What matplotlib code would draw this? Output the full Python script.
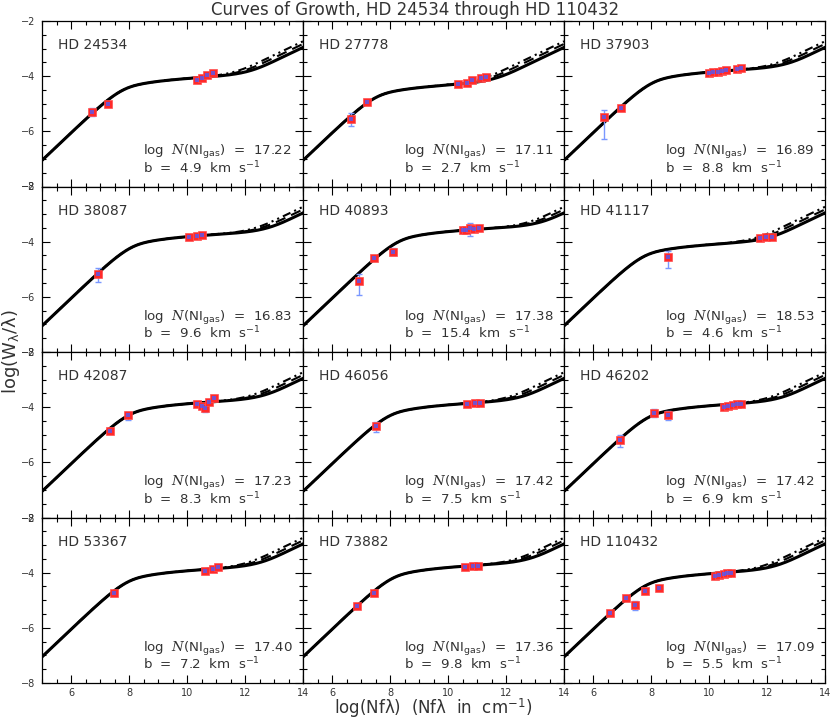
import numpy as np
import matplotlib
matplotlib.use("Agg")
import matplotlib.pyplot as plt
from matplotlib.ticker import MultipleLocator

plt.rcParams['font.family'] = ['DejaVu Sans']
plt.rcParams['mathtext.fontset'] = 'dejavuserif'

# ---------------- data ----------------
stars = ["HD 24534", "HD 27778", "HD 37903",
         "HD 38087", "HD 40893", "HD 41117",
         "HD 42087", "HD 46056", "HD 46202",
         "HD 53367", "HD 73882", "HD 110432"]
logN = ["17.22", "17.11", "16.89", "16.83", "17.38", "18.53",
        "17.23", "17.42", "17.42", "17.40", "17.36", "17.09"]
b_kms = [4.9, 2.7, 8.8, 9.6, 15.4, 4.6, 8.3, 7.5, 6.9, 7.2, 9.8, 5.5]

x_24534 = [6.74, 7.29, 10.33, 10.51, 10.70, 10.89]
y_24534 = [-5.29, -5.00, -4.14, -4.07, -3.97, -3.90]
eu_24534 = [0.15, 0.06, 0.05, 0.05, 0.05, 0.05]
el_24534 = [0.15, 0.06, 0.05, 0.05, 0.05, 0.05]

x_27778 = [6.64, 7.20, 10.36, 10.64, 10.83, 11.14, 11.31]
y_27778 = [-5.54, -4.92, -4.28, -4.23, -4.14, -4.06, -4.03]
eu_27778 = [0.20, 0.06, 0.05, 0.05, 0.06, 0.05, 0.05]
el_27778 = [0.26, 0.06, 0.05, 0.05, 0.06, 0.05, 0.05]

x_37903 = [6.39, 6.95, 10.00, 10.15, 10.30, 10.45, 10.58, 10.95, 11.10]
y_37903 = [-5.48, -5.17, -3.90, -3.84, -3.86, -3.81, -3.79, -3.73, -3.72]
eu_37903 = [0.27, 0.06, 0.05, 0.05, 0.05, 0.05, 0.05, 0.04, 0.04]
el_37903 = [0.81, 0.06, 0.05, 0.05, 0.05, 0.05, 0.05, 0.04, 0.04]

x_38087 = [6.94, 10.07, 10.36, 10.50]
y_38087 = [-5.17, -3.82, -3.78, -3.77]
eu_38087 = [0.22, 0.05, 0.04, 0.04]
el_38087 = [0.30, 0.05, 0.04, 0.04]

x_40893 = [6.92, 7.46, 8.10, 10.50, 10.62, 10.76, 10.88, 11.06]
y_40893 = [-5.41, -4.60, -4.36, -3.56, -3.58, -3.52, -3.53, -3.52]
eu_40893 = [0.24, 0.05, 0.12, 0.10, 0.06, 0.18, 0.05, 0.05]
el_40893 = [0.54, 0.05, 0.12, 0.14, 0.06, 0.26, 0.05, 0.05]

x_41117 = [8.58, 11.75, 11.97, 12.18]
y_41117 = [-4.54, -3.88, -3.82, -3.82]
eu_41117 = [0.20, 0.04, 0.04, 0.04]
el_41117 = [0.42, 0.04, 0.04, 0.04]

x_42087 = [7.34, 7.98, 10.36, 10.50, 10.62, 10.76, 10.93]
y_42087 = [-4.86, -4.30, -3.90, -3.94, -4.02, -3.82, -3.68]
eu_42087 = [0.06, 0.13, 0.06, 0.06, 0.12, 0.06, 0.06]
el_42087 = [0.06, 0.17, 0.06, 0.06, 0.15, 0.06, 0.06]

x_46056 = [7.51, 10.66, 10.92, 11.09]
y_46056 = [-4.69, -3.90, -3.86, -3.84]
eu_46056 = [0.16, 0.05, 0.05, 0.05]
el_46056 = [0.22, 0.05, 0.05, 0.05]

x_46202 = [6.94, 8.11, 8.60, 10.50, 10.67, 10.83, 10.97, 11.11]
y_46202 = [-5.20, -4.20, -4.28, -4.00, -3.96, -3.92, -3.89, -3.87]
eu_46202 = [0.18, 0.14, 0.13, 0.05, 0.05, 0.05, 0.05, 0.05]
el_46202 = [0.26, 0.16, 0.17, 0.05, 0.05, 0.05, 0.05, 0.05]

x_53367 = [7.47, 10.62, 10.91, 11.08]
y_53367 = [-4.73, -3.94, -3.86, -3.80]
eu_53367 = [0.06, 0.06, 0.06, 0.06]
el_53367 = [0.06, 0.06, 0.06, 0.06]

x_73882 = [6.87, 7.44, 10.57, 10.85, 11.02]
y_73882 = [-5.20, -4.74, -3.78, -3.76, -3.76]
eu_73882 = [0.08, 0.06, 0.05, 0.04, 0.04]
el_73882 = [0.08, 0.06, 0.05, 0.04, 0.04]

x_110432 = [6.57, 7.14, 7.45, 7.80, 8.29, 10.19, 10.36, 10.50, 10.62, 10.76]
y_110432 = [-5.46, -4.93, -5.16, -4.66, -4.54, -4.12, -4.08, -4.06, -4.02, -4.00]
eu_110432 = [0.07, 0.05, 0.14, 0.06, 0.05, 0.04, 0.04, 0.04, 0.04, 0.04]
el_110432 = [0.09, 0.05, 0.18, 0.06, 0.05, 0.04, 0.04, 0.04, 0.04, 0.04]

points = [
    (x_24534, y_24534, eu_24534, el_24534),
    (x_27778, y_27778, eu_27778, el_27778),
    (x_37903, y_37903, eu_37903, el_37903),
    (x_38087, y_38087, eu_38087, el_38087),
    (x_40893, y_40893, eu_40893, el_40893),
    (x_41117, y_41117, eu_41117, el_41117),
    (x_42087, y_42087, eu_42087, el_42087),
    (x_46056, y_46056, eu_46056, el_46056),
    (x_46202, y_46202, eu_46202, el_46202),
    (x_53367, y_53367, eu_53367, el_53367),
    (x_73882, y_73882, eu_73882, el_73882),
    (x_110432, y_110432, eu_110432, el_110432),
]

# damping widths (Gamma*lambda, cm/s) for solid, dashed, dash-dot model curves
gamma_lambda = [1300.0, 2300.0, 3600.0]

x_ticks = [6, 8, 10, 12, 14]
y_ticks = [-8, -6, -4, -2]


# ---------------- theoretical curve of growth ----------------
def cog(logx, b_kms, gl):
    c = 2.998e10
    b = b_kms * 1e5
    tau0 = 1.497e-2 * 10.0 ** logx / b
    a = gl / (4 * np.pi * b)
    u = np.concatenate([np.linspace(0, 10, 1500), np.logspace(1.0001, 6.5, 2500)])
    H = np.exp(-u ** 2) + a / (np.sqrt(np.pi) * (u ** 2 + 1.0))
    integrand = 1.0 - np.exp(-tau0[:, None] * H[None, :])
    I = np.trapezoid(integrand, u, axis=1)
    return np.log10(2 * b / c * I)


xx = np.linspace(5, 14, 300)

W, H = 831, 721
fig = plt.figure(figsize=(W / 100, H / 100), dpi=100)
left_px, top_px, cw, rh = 42, 21, 261, 165.5
txtc = '#333333'

for k in range(12):
    r, cidx = divmod(k, 3)
    ax = fig.add_axes([(left_px + cidx * cw) / W, 1 - (top_px + (r + 1) * rh) / H, cw / W, rh / H])
    ax.set_xlim(5, 14)
    ax.set_ylim(-8, -2)
    styles = ['-', (0, (5, 3)), (0, (4, 2, 1, 2, 1, 2))]
    lws = [2.2, 1.5, 1.5]
    for gl, ls, lw, z in zip(gamma_lambda[::-1], styles[::-1], lws[::-1], [2, 2.1, 2.2]):
        ax.plot(xx, cog(xx, b_kms[k], gl), color='black', ls=ls, lw=lw, zorder=z)
    px, py, eu, el = points[k]
    ax.errorbar(px, py, yerr=[el, eu], fmt='none', ecolor='#7a98ff', elinewidth=1.0,
                capsize=2.5, capthick=1.0, zorder=4)
    ax.plot(px, py, 's', color='#ff2a2a', ms=5.5, mec='#ff5050', mew=0.5, zorder=5)
    ax.plot(px, py, 's', color='#4a5cff', ms=2.2, mew=0, alpha=0.75, zorder=6)

    ax.text(0.06, 0.83, stars[k], transform=ax.transAxes, fontsize=10, color=txtc,
            va='baseline')
    ax.text(0.387, 0.19, r'log  $N$(NI$_{\mathsf{gas}}$)  =  ' + logN[k], transform=ax.transAxes,
            fontsize=9.6, color=txtc, va='baseline')
    ax.text(0.387, 0.080, r'b  =  %.1f  km  s$^{\mathsf{-1}}$' % b_kms[k], transform=ax.transAxes,
            fontsize=9.6, color=txtc, va='baseline')

    ax.set_xticks(x_ticks)
    ax.xaxis.set_minor_locator(MultipleLocator(0.5))
    ax.set_yticks(y_ticks)
    ax.yaxis.set_minor_locator(MultipleLocator(0.5))
    ax.tick_params(which='both', direction='in', top=True, right=True, labelsize=7,
                   colors='black', labelcolor=txtc, width=0.8)
    ax.tick_params(which='major', length=5.5, pad=5)
    ax.tick_params(axis='x', which='major', pad=3.5)
    ax.tick_params(which='minor', length=3)
    if r != 3:
        ax.set_xticklabels([])
    if cidx != 0:
        ax.set_yticklabels([])
    for s in ax.spines.values():
        s.set_linewidth(0.9)

fig.text(0.5, 1 - 10 / H, 'Curves of Growth, HD 24534 through HD 110432', ha='center', va='center',
         fontsize=12, color=txtc)
fig.text((left_px + 1.5 * cw) / W, 1 - 720.5 / H, r'log(Nf$\mathsf{\lambda}$)  (Nf$\mathsf{\lambda}$  in  cm$^{\mathsf{-1}}$)',
         ha='center', va='bottom', fontsize=12, color=txtc)
fig.text(11 / W, 1 - (top_px + 2 * rh) / H, r'log(W$_{\mathsf{\lambda}}$/$\mathsf{\lambda}$)', ha='center', va='center',
         rotation=90, fontsize=13, color=txtc)

fig.savefig('out.png', dpi=100)
